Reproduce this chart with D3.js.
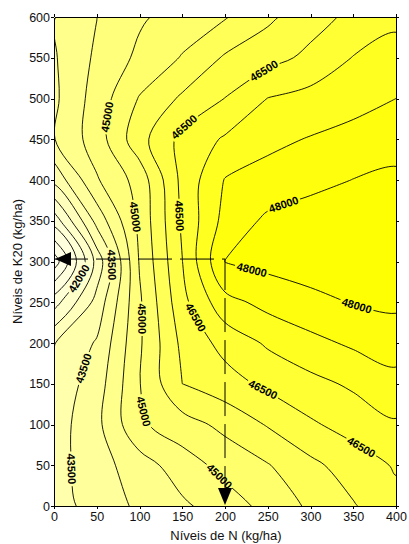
<!DOCTYPE html>
<html lang="pt">
<head>
<meta charset="UTF-8"/>
<title>Níveis de N e K20</title>
<script src="https://d3js.org/d3.v7.min.js"></script>
<style type="text/css">
  body { margin: 0; background: #fff; }
  svg { font-family: "Liberation Sans", Arial, sans-serif; }
  .axis text { font-size: 12.5px; fill: #111; }
  .axis path, .axis line { stroke: #000; shape-rendering: crispEdges; }
  .iso { fill: none; stroke: #000; stroke-width: 0.9; }
  .isoLabel { font-size: 11px; font-weight: bold; fill: #000; }
  .guide { fill: none; stroke: #000; stroke-width: 1; stroke-dasharray: 34, 8; }
  .title { font-size: 13px; fill: #111; }
</style>
</head>
<body>
<script>

// grid of doses: N in columns, K2O in rows
var nDoses = [0, 50, 100, 150, 200, 250, 300, 350, 400];
var kDoses = [0, 50, 100, 150, 200, 250, 300, 350, 400, 450, 500, 550, 600];

// yield at each grid node, one array per K2O row
var yieldK0   = [43300, 43685, 44100, 44410, 44760, 45150, 45590, 45960, 46350];
var yieldK50  = [43300, 43790, 44270, 44765, 45160, 45470, 45880, 46240, 46550];
var yieldK100 = [43250, 43870, 44920, 45280, 45640, 46040, 46430, 46700, 46940];
var yieldK150 = [43150, 43750, 44980, 46000, 46290, 46615, 46855, 47080, 47340];
var yieldK200 = [42980, 43550, 44930, 46120, 46670, 47070, 47360, 47580, 47730];
var yieldK250 = [41780, 43170, 44925, 46350, 47330, 47660, 47860, 48025, 48100];
var yieldK300 = [40200, 42670, 45040, 46490, 48010, 48150, 48250, 48320, 48380];
var yieldK350 = [41700, 43670, 45125, 46580, 47670, 48100, 48260, 48330, 48360];
var yieldK400 = [43140, 44450, 45200, 46640, 47525, 47680, 47840, 48010, 48100];
var yieldK450 = [43980, 44750, 45820, 46650, 47060, 47380, 47530, 47660, 47800];
var yieldK500 = [43900, 44720, 45535, 46080, 46510, 47010, 47170, 47330, 47500];
var yieldK550 = [43950, 44590, 45110, 45535, 46060, 46320, 46620, 47020, 47200];
var yieldK600 = [43980, 44490, 44930, 45210, 45460, 45900, 46300, 46620, 46880];

var isoLevels = [40000, 40500, 41000, 41500, 42000, 42500, 43000, 43500, 44000,
                 44500, 45000, 45500, 46000, 46500, 47000, 47500, 48000];

// labelled isolines: [value, N, K2O]
var labelSpots = [
  [45000, 56, 478], [46500, 147, 470], [46500, 256, 517], [45000, 97, 355],
  [46500, 145, 355], [48000, 270, 367], [42000, 30, 278], [43500, 68, 296],
  [45000, 104, 230], [46500, 162, 230], [43500, 34, 169], [45000, 100, 115],
  [43500, 22, 46], [45000, 194, 37], [48000, 229, 281], [48000, 354, 244],
  [46500, 243, 141], [46500, 358, 70]
];

var optimumN = 200, optimumK = 303;

var xTicks = [0, 50, 100, 150, 200, 250, 300, 350, 400];
var yTicks = [0, 50, 100, 150, 200, 250, 300, 350, 400, 450, 500, 550, 600];

var margin = {top: 17, right: 13, bottom: 38, left: 54},
    width = 409 - margin.left - margin.right,
    height = 544 - margin.top - margin.bottom;

var x = d3.scaleLinear().domain([0, 400]).range([0, width]);
var y = d3.scaleLinear().domain([0, 600]).range([height, 0]);

var color = d3.scaleLinear()
    .domain([40000, 42000, 43500, 45000, 46500, 48000])
    .range(["#fffff0", "#ffffd2", "#ffffa4", "#ffff74", "#ffff3c", "#ffff04"])
    .clamp(true);

var root = d3.select("body").append("svg")
    .attr("width", 409)
    .attr("height", 544);
var defs = root.append("defs");
var svg = root.append("g")
    .attr("transform", "translate(" + margin.left + "," + margin.top + ")");

defs.append("clipPath").attr("id", "plotClip")
  .append("rect").attr("width", width).attr("height", height);

var mask = defs.append("mask").attr("id", "labelGap")
    .attr("maskUnits", "userSpaceOnUse")
    .attr("x", -margin.left).attr("y", -margin.top)
    .attr("width", 409).attr("height", 544);
mask.append("rect")
    .attr("x", -margin.left).attr("y", -margin.top)
    .attr("width", 409).attr("height", 544)
    .attr("fill", "#fff");

// contours on the grid (values[i] sits at grid coordinate i + 0.5)
var dx = nDoses.length, dy = kDoses.length;
var yieldRows = [yieldK0, yieldK50, yieldK100, yieldK150, yieldK200, yieldK250, yieldK300,
                 yieldK350, yieldK400, yieldK450, yieldK500, yieldK550, yieldK600];
var values = [].concat.apply([], yieldRows);
var stepN = nDoses[1] - nDoses[0], stepK = kDoses[1] - kDoses[0];

var contours = d3.contours().size([dx, dy]).thresholds(isoLevels)(values);

function toPx(p) {
  return [x(nDoses[0] + (p[0] - 0.5) * stepN), y(kDoses[0] + (p[1] - 0.5) * stepK)];
}

var ringLine = d3.line().curve(d3.curveCatmullRomClosed.alpha(0.5));

function isoPath(mp) {
  return mp.coordinates.map(function(poly) {
    return poly.map(function(ring) {
      var pts = ring.map(toPx);
      var a = pts[0], b = pts[pts.length - 1];
      if (a[0] === b[0] && a[1] === b[1]) pts = pts.slice(0, -1);
      return ringLine(pts);
    }).join("");
  }).join("");
}

var plot = svg.append("g").attr("clip-path", "url(#plotClip)");

plot.append("rect")
    .attr("width", width).attr("height", height)
    .attr("fill", color(isoLevels[0] - 250));

// filled bands, low to high
plot.append("g").selectAll("path")
  .data(contours)
  .enter().append("path")
    .attr("d", isoPath)
    .attr("fill-rule", "evenodd")
    .attr("fill", function(d) { return color(d.value + 250); });

// isolines
var lines = plot.append("g").attr("mask", "url(#labelGap)");
var isoPaths = lines.selectAll("path")
  .data(contours)
  .enter().append("path")
    .attr("class", "iso")
    .attr("d", isoPath);

// place labels on the drawn isolines
var labelLayer = svg.append("g");
labelSpots.forEach(function(s) {
  var node = isoPaths.filter(function(d) { return d.value === s[0]; }).node();
  var px = x(s[1]), py = y(s[2]);
  var total = node.getTotalLength();
  var best = null, bestD = Infinity;
  for (var l = 0; l <= total; l += 1.5) {
    var p = node.getPointAtLength(l);
    var d = (p.x - px) * (p.x - px) + (p.y - py) * (p.y - py);
    if (d < bestD) { bestD = d; best = l; }
  }
  var c = node.getPointAtLength(best),
      p0 = node.getPointAtLength(Math.max(0, best - 3)),
      p1 = node.getPointAtLength(Math.min(total, best + 3));
  var ang = Math.atan2(p1.y - p0.y, p1.x - p0.x) * 180 / Math.PI;
  while (ang > 90) ang -= 180;
  while (ang <= -90) ang += 180;

  var t = labelLayer.append("text")
      .attr("class", "isoLabel")
      .attr("text-anchor", "middle")
      .attr("dy", "0.36em")
      .attr("transform", "translate(" + c.x + "," + c.y + ") rotate(" + ang + ")")
      .text(s[0]);
  var w = t.node().getComputedTextLength() + 4;
  mask.append("rect")
      .attr("x", -w / 2).attr("y", -5)
      .attr("width", w).attr("height", 10)
      .attr("fill", "#000")
      .attr("transform", "translate(" + c.x + "," + c.y + ") rotate(" + ang + ")");
});

// guide to the optimum
var guide = d3.line()([[x(0), y(optimumK)], [x(optimumN), y(optimumK)], [x(optimumN), y(0)]]);
svg.append("path").attr("class", "guide").attr("d", guide);

var tipL = [x(0) + 1, y(optimumK)];
svg.append("path")
    .attr("d", "M" + tipL[0] + "," + tipL[1] + "L" + (tipL[0] + 16) + "," + (tipL[1] - 7) +
               "L" + (tipL[0] + 16) + "," + (tipL[1] + 7) + "Z")
    .attr("fill", "#000");
var tipB = [x(optimumN), y(0) - 1];
svg.append("path")
    .attr("d", "M" + tipB[0] + "," + tipB[1] + "L" + (tipB[0] - 7) + "," + (tipB[1] - 17) +
               "L" + (tipB[0] + 7) + "," + (tipB[1] - 17) + "Z")
    .attr("fill", "#000");

// frame and axes
svg.append("g").attr("class", "axis")
    .attr("transform", "translate(0," + height + ")")
    .call(d3.axisBottom(x).tickValues(xTicks).tickSize(3).tickSizeOuter(0).tickPadding(3));
svg.append("g").attr("class", "axis")
    .call(d3.axisLeft(y).tickValues(yTicks).tickSize(3).tickSizeOuter(0).tickPadding(1));
svg.append("g").attr("class", "axis")
    .call(d3.axisTop(x).tickValues(xTicks).tickSize(3).tickSizeOuter(0).tickFormat(""));
svg.append("g").attr("class", "axis")
    .attr("transform", "translate(" + width + ",0)")
    .call(d3.axisRight(y).tickValues(yTicks).tickSize(3).tickSizeOuter(0).tickFormat(""));

svg.selectAll(".axis .domain").attr("stroke", "#000");

svg.append("text").attr("class", "title")
    .attr("text-anchor", "middle")
    .attr("x", width / 2 + 1)
    .attr("y", height + 34)
    .text("Níveis de N (kg/ha)");

svg.append("text").attr("class", "title")
    .attr("text-anchor", "middle")
    .attr("transform", "translate(" + (-32) + "," + (height / 2) + ") rotate(-90)")
    .text("Níveis de K20 (kg/ha)");

</script>
</body>
</html>
